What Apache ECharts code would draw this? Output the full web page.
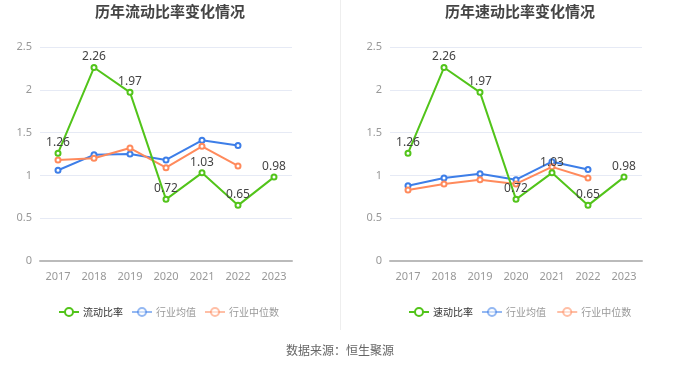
<!DOCTYPE html>
<html><head><meta charset="utf-8">
<script src="https://cdn.jsdelivr.net/npm/echarts@6/dist/echarts.min.js"></script>
<style>html,body{margin:0;padding:0;background:#fff}#c{width:680px;height:367px}</style>
</head><body><div id="c"></div>
<script>
var years = ['2017','2018','2019','2020','2021','2022','2023'];
var currentRatio = [1.26, 2.26, 1.97, 0.72, 1.03, 0.65, 0.98];
var currentIndAvg = [1.06, 1.24, 1.25, 1.18, 1.41, 1.35, null];
var currentIndMed = [1.18, 1.20, 1.32, 1.09, 1.34, 1.11, null];
var quickRatio = [1.26, 2.26, 1.97, 0.72, 1.03, 0.65, 0.98];
var quickIndAvg = [0.88, 0.97, 1.02, 0.95, 1.16, 1.07, null];
var quickIndMed = [0.83, 0.90, 0.95, 0.90, 1.10, 0.97, null];

var GREEN = '#52c41a', BLUE = '#3d7ee8', ORANGE = '#ff8a5c';
var chart = echarts.init(document.getElementById('c'));
function xAxis(i){return {type:'category',data:years,gridIndex:i,boundaryGap:true,
  axisLine:{lineStyle:{color:'#bbb',width:2}},axisTick:{show:false},
  axisLabel:{color:'#999',fontSize:11,margin:10,fontFamily:'Noto Sans'}};}
function yAxis(i){return {type:'value',gridIndex:i,min:0,max:2.5,interval:0.5,
  axisLine:{show:false},axisTick:{show:false},
  axisLabel:{color:'#999',fontSize:11,margin:8,fontFamily:'Noto Sans',formatter:function(v){return String(v);}},
  splitLine:{lineStyle:{color:'#e6eaf5'}}};}
function s(name,data,color,idx,label){
  return {name:name,type:'line',data:data,xAxisIndex:idx,yAxisIndex:idx,
    symbol:'emptyCircle',symbolSize:5,showAllSymbol:true,connectNulls:false,
    lineStyle:{color:color,width:2},itemStyle:{color:color,borderWidth:1.5},
    z: label?3:2,
    label:{show:!!label,position:'top',color:'#444',fontSize:12,distance:1,fontFamily:'Noto Sans'}};
}
function legend(left,names){
  return {left:left,top:302,itemWidth:20,itemHeight:10,itemGap:8,
    data:[
      {name:names[0],textStyle:{color:'#333'}},
      {name:names[1],textStyle:{color:'#999'},itemStyle:{opacity:0.55},lineStyle:{opacity:0.55}},
      {name:names[2],textStyle:{color:'#999'},itemStyle:{opacity:0.55},lineStyle:{opacity:0.55}}],
    textStyle:{fontSize:10,fontFamily:'Noto Sans CJK SC',padding:[0,0,0,-1]}};
}
chart.setOption({
  animation:false,
  title:[
    {text:'历年流动比率变化情况',left:165,top:-1,textAlign:'center',textStyle:{fontSize:15,fontWeight:'bold',color:'#444',fontFamily:'Noto Sans CJK SC'}},
    {text:'历年速动比率变化情况',left:515,top:-1,textAlign:'center',textStyle:{fontSize:15,fontWeight:'bold',color:'#444',fontFamily:'Noto Sans CJK SC'}}
  ],
  legend:[
    legend(53,['流动比率','行业均值','行业中位数']),
    legend(403,['速动比率','行业均值 ','行业中位数 '])
  ],
  grid:[{left:40,right:388,top:47,bottom:106},{left:390,right:38,top:47,bottom:106}],
  xAxis:[xAxis(0),xAxis(1)],
  yAxis:[yAxis(0),yAxis(1)],
  series:[
    s('行业均值',currentIndAvg,BLUE,0,false),
    s('行业中位数',currentIndMed,ORANGE,0,false),
    s('流动比率',currentRatio,GREEN,0,true),
    s('行业均值 ',quickIndAvg,BLUE,1,false),
    s('行业中位数 ',quickIndMed,ORANGE,1,false),
    s('速动比率',quickRatio,GREEN,1,true)
  ],
  graphic:[
    {type:'line',shape:{x1:340.5,y1:0,x2:340.5,y2:330},style:{stroke:'#eee',lineWidth:1}},
    {type:'text',left:'center',top:344,style:{text:'数据来源：恒生聚源',fill:'#666',fontSize:12,fontFamily:'Noto Sans CJK SC'}}
  ]
});
</script></body></html>
